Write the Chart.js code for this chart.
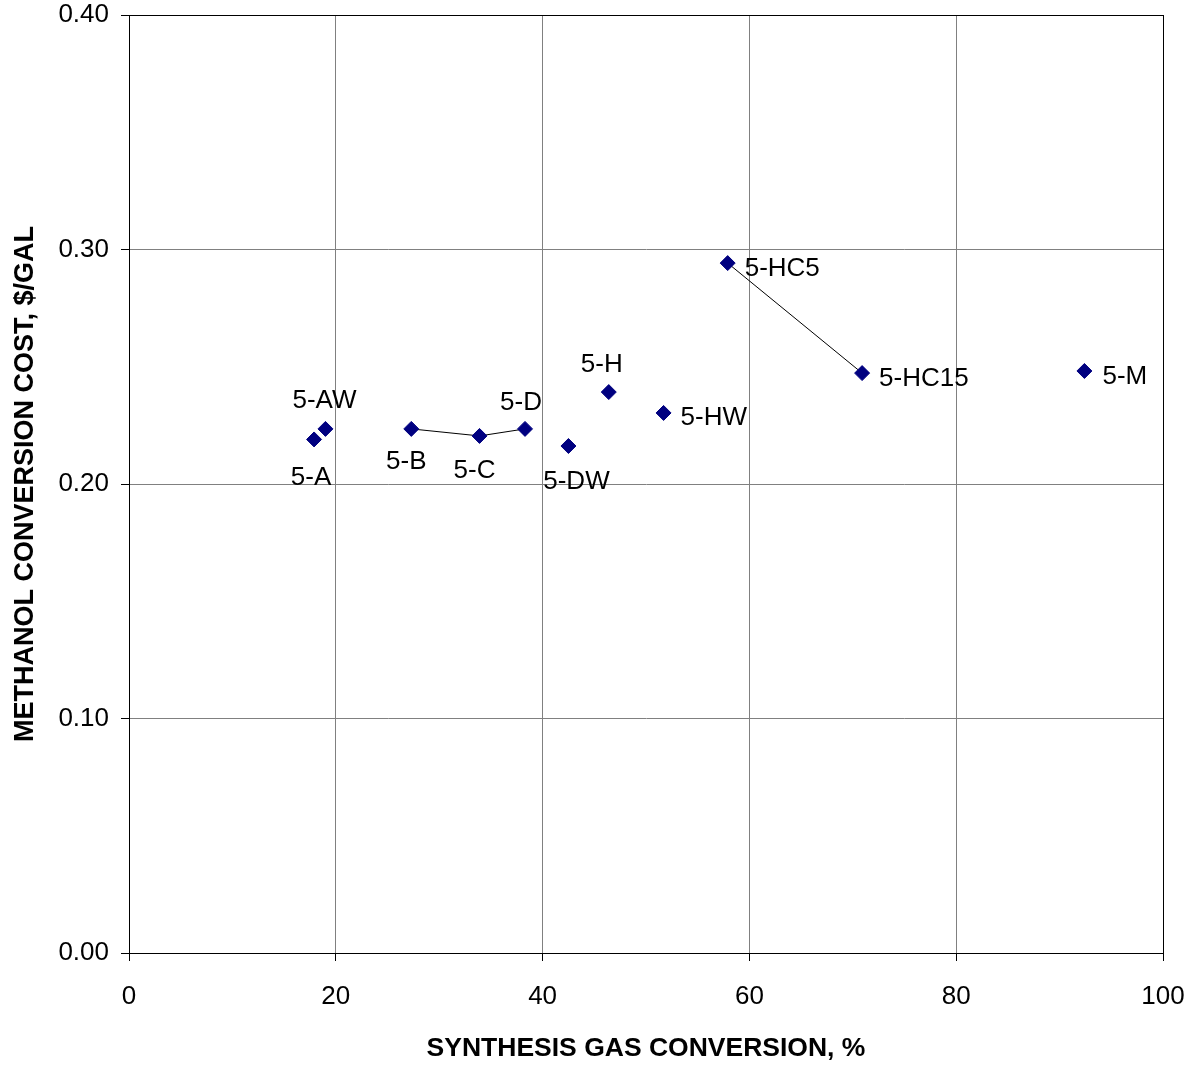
<!DOCTYPE html>
<html>
<head>
<meta charset="utf-8">
<script src="https://cdn.jsdelivr.net/npm/chart.js@4/dist/chart.umd.min.js"></script>
<style>
  html, body { margin: 0; padding: 0; background: #fff; }
  #wrap { width: 1189px; height: 1065px; }
</style>
</head>
<body>
<div id="wrap"><canvas id="c" width="1189" height="1065"></canvas></div>
<script>
// ---- data ----
const labels = ['5-A', '5-AW', '5-B', '5-C', '5-D', '5-DW', '5-H', '5-HW', '5-HC5', '5-HC15', '5-M'];
const conversion = [17.9, 19.0, 27.3, 33.9, 38.3, 42.5, 46.4, 51.7, 57.9, 70.9, 92.4];
const cost = [0.219, 0.2235, 0.2235, 0.2205, 0.2235, 0.2162, 0.2392, 0.2303, 0.2942, 0.2473, 0.2482];
const lineGroupA = ['5-B', '5-C', '5-D'];
const lineGroupB = ['5-HC5', '5-HC15'];
const xTicks = [0, 20, 40, 60, 80, 100];
const yTicks = [0.00, 0.10, 0.20, 0.30, 0.40];
const xTitle = 'SYNTHESIS GAS CONVERSION, %';
const yTitle = 'METHANOL CONVERSION COST, $/GAL';

const FONT = "'Liberation Sans', Arial, sans-serif";
const pts = labels.map((l, i) => ({ x: conversion[i], y: cost[i], label: l }));
const groupPts = g => g.map(l => pts[labels.indexOf(l)]);

// label placement (style): [dx, dy, align]
const labelPlace = {
  '5-A': [-3, 38, 'center'],
  '5-AW': [-1, -28, 'center'],
  '5-B': [-5, 33, 'center'],
  '5-C': [-5, 35, 'center'],
  '5-D': [-4, -26, 'center'],
  '5-DW': [8, 36, 'center'],
  '5-H': [-7, -27, 'center'],
  '5-HW': [17, 5, 'left'],
  '5-HC5': [17, 6, 'left'],
  '5-HC15': [17, 6, 'left'],
  '5-M': [18, 6, 'left']
};

const labelPlugin = {
  id: 'pointLabels',
  afterDatasetsDraw(chart) {
    const ctx = chart.ctx;
    const meta = chart.getDatasetMeta(2);
    ctx.save();
    ctx.font = '26px ' + FONT;
    ctx.fillStyle = '#000';
    ctx.textBaseline = 'middle';
    meta.data.forEach((el, i) => {
      const p = labelPlace[labels[i]] || [15, 0, 'left'];
      ctx.textAlign = p[2];
      ctx.fillText(labels[i], el.x + p[0], el.y + p[1]);
    });
    ctx.restore();
  }
};

const borderPlugin = {
  id: 'frame',
  afterDraw(chart) {
    const a = chart.chartArea, ctx = chart.ctx;
    ctx.save();
    ctx.strokeStyle = '#000';
    ctx.lineWidth = 1;
    ctx.strokeRect(Math.round(a.left) + 0.5, Math.round(a.top) + 0.5, Math.round(a.right - a.left), Math.round(a.bottom - a.top));
    ctx.restore();
  }
};

new Chart(document.getElementById('c'), {
  type: 'scatter',
  data: {
    datasets: [
      { data: groupPts(lineGroupA), showLine: true, borderColor: '#000', borderWidth: 1, pointRadius: 0, order: 3 },
      { data: groupPts(lineGroupB), showLine: true, borderColor: '#000', borderWidth: 1, pointRadius: 0, order: 2 },
      { data: pts, showLine: false, pointStyle: 'rectRot', pointRadius: 7.5, pointBorderWidth: 1,
        backgroundColor: '#000080', borderColor: '#000080', order: 1 }
    ]
  },
  options: {
    responsive: false,
    animation: false,
    events: [],
    layout: { padding: { top: 15, right: 26, left: 0, bottom: 0 } },
    plugins: { legend: { display: false }, tooltip: { enabled: false } },
    scales: {
      x: {
        type: 'linear', min: 0, max: 100,
        afterBuildTicks: s => { s.ticks = xTicks.map(v => ({ value: v })); },
        afterFit: s => { s.height = 112; s.paddingLeft = 0; s.paddingRight = 0; },
        ticks: { font: { family: FONT, size: 26, lineHeight: 1 }, color: '#000', padding: 23, maxRotation: 0,
          callback: v => String(v) },
        grid: { color: '#808080', lineWidth: 1, tickLength: 8, tickColor: '#000' },
        border: { color: '#000', width: 1 },
        title: { display: true, text: xTitle, color: '#000', font: { family: FONT, size: 26.5, weight: 'bold' },
          padding: { top: 4, bottom: 0 } }
      },
      y: {
        type: 'linear', min: 0, max: 0.4,
        afterBuildTicks: s => { s.ticks = yTicks.map(v => ({ value: v })); },
        afterFit: s => { s.width = 129; s.paddingTop = 0; s.paddingBottom = 0; },
        ticks: { font: { family: FONT, size: 26, lineHeight: 1 }, color: '#000', padding: 12,
          callback: v => Number(v).toFixed(2) },
        grid: { color: '#808080', lineWidth: 1, tickLength: 8, tickColor: '#000' },
        border: { color: '#000', width: 1 },
        title: { display: true, text: yTitle, color: '#000', font: { family: FONT, size: 27, weight: 'bold' },
          padding: { top: 9, bottom: 0 } }
      }
    }
  },
  plugins: [labelPlugin, borderPlugin]
});
</script>
</body>
</html>
